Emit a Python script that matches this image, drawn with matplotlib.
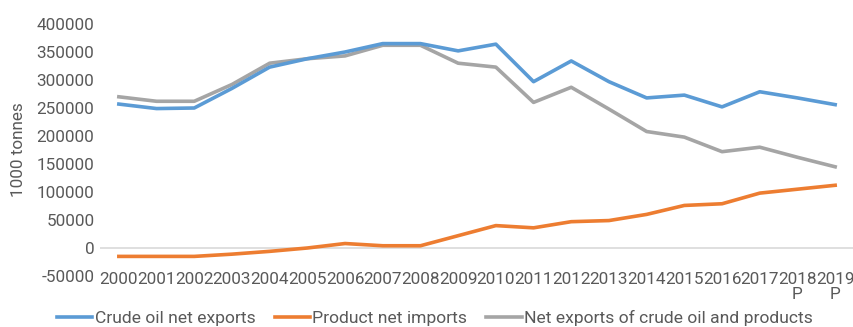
import matplotlib
matplotlib.use("Agg")
import matplotlib.pyplot as plt

plt.rcParams['font.family'] = ['Roboto', 'DejaVu Sans']
plt.rcParams['axes.unicode_minus'] = False

# data (1000 tonnes)
years = ['2000', '2001', '2002', '2003', '2004', '2005', '2006', '2007', '2008', '2009',
         '2010', '2011', '2012', '2013', '2014', '2015', '2016', '2017', '2018\nP', '2019\nP']
crude_net_exports = [257000, 249000, 250000, 285000, 323000, 338000, 350000, 365000, 365000, 352000,
                     364000, 297000, 334000, 297000, 268000, 273000, 252000, 279000, 268000, 256000]
product_net_imports = [-15000, -15000, -15000, -11000, -6000, 0, 8000, 4000, 4000, 22000,
                       40000, 36000, 47000, 49000, 60000, 76000, 79000, 98000, 105000, 112000]
total_net_exports = [270000, 262000, 262000, 292000, 330000, 338000, 343000, 362000, 362000, 330000,
                     323000, 260000, 287000, 248000, 208000, 198000, 172000, 180000, 162000, 145000]

text_col = '#595959'
fs = 12.3
x = list(range(len(years)))

fig = plt.figure(figsize=(8.54, 3.27), dpi=100)
ax = fig.add_axes([100 / 854, 51 / 327, 754 / 854, 252 / 327])

ax.axhline(0, color='#D9D9D9', lw=1.2, zorder=1)
ax.plot(x, crude_net_exports, color='#5B9BD5', lw=2.6, label='Crude oil net exports', zorder=3)
ax.plot(x, product_net_imports, color='#ED7D31', lw=2.6, label='Product net imports', zorder=3)
ax.plot(x, total_net_exports, color='#A5A5A5', lw=2.6, label='Net exports of crude oil and products', zorder=2)

ax.set_xlim(-0.5, len(years) - 0.5)
ax.set_ylim(-50000, 400000)
ax.set_yticks(range(-50000, 400001, 50000))
ax.set_xticks(x)
ax.set_xticklabels(years, linespacing=1.0)
ax.tick_params(axis='both', length=0, labelsize=fs, labelcolor=text_col)
ax.tick_params(axis='x', pad=-3)
ax.tick_params(axis='y', pad=4)
for s in ax.spines.values():
    s.set_visible(False)

ax.set_ylabel('1000 tonnes', fontsize=fs, color=text_col)
ax.yaxis.set_label_coords(-74 / 754, 0.5)

leg = fig.legend(loc='center', bbox_to_anchor=(435 / 854, 9 / 327), ncol=3, frameon=False,
                 fontsize=12.6, handlelength=2.0, handletextpad=0.15, columnspacing=1.1)
for t in leg.get_texts():
    t.set_color(text_col)

fig.savefig('out.png', dpi=100)
